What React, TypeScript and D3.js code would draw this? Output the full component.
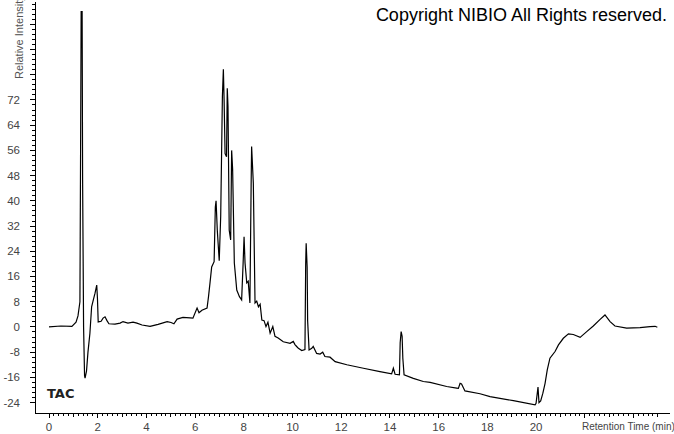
import { useMemo } from "react";
import * as d3 from "d3";

const WIDTH = 674;
const HEIGHT = 434;

// retention time (min) and relative intensity
const rt = [
  0.0, 0.49, 0.94, 1.11, 1.19, 1.27, 1.3, 1.32, 1.36, 1.38, 1.42, 1.46, 1.48, 1.54, 1.6, 1.68, 1.75, 1.82, 1.89, 1.96,
  1.99, 2.02, 2.14, 2.22, 2.3, 2.38, 2.46, 2.71, 2.92, 3.04, 3.24, 3.45, 3.61, 3.82, 4.15, 4.48, 4.85, 5.01, 5.13, 5.26,
  5.5, 5.79, 5.91, 6.08, 6.16, 6.28, 6.49, 6.55, 6.61, 6.68, 6.78, 6.83, 6.86, 6.91, 6.99, 7.05, 7.12, 7.16, 7.19, 7.23,
  7.29, 7.32, 7.35, 7.4, 7.46, 7.5, 7.54, 7.61, 7.71, 7.82, 7.91, 7.97, 8.01, 8.05, 8.12, 8.18, 8.25, 8.3, 8.32, 8.39,
  8.46, 8.53, 8.6, 8.67, 8.74, 8.83, 8.91, 8.99, 9.08, 9.19, 9.28, 9.41, 9.62, 9.9, 10.03, 10.1, 10.17, 10.24, 10.38, 10.51,
  10.54, 10.56, 10.6, 10.62, 10.68, 10.79, 10.85, 10.99, 11.13, 11.24, 11.33, 11.54, 11.75, 12.23, 12.91, 13.59, 14.07, 14.14, 14.21, 14.39,
  14.42, 14.46, 14.5, 14.53, 14.58, 14.96, 15.37, 15.65, 16.33, 16.74, 16.81, 16.88, 16.94, 17.08, 17.7, 18.11, 19.07, 19.96, 20.0, 20.08,
  20.12, 20.19, 20.28, 20.37, 20.46, 20.57, 20.78, 20.92, 21.12, 21.33, 21.53, 21.81, 22.08, 22.35, 22.63, 22.83, 23.04, 23.24, 23.72, 24.27,
  24.68, 24.89, 24.98,
];
const intensity = [
  0, 0.3, 0.2, 1.5, 3.5, 8, 61.5, 100, 100, 46.6, 0, -15.5, -16.2, -14, -8, -2, 6.4, 8.6, 10.7, 13.3,
  9, 1.6, 1.8, 2.8, 3.2, 2, 1.0, 0.9, 1.2, 1.7, 1.2, 1.5, 1.2, 0.6, 0.2, 0.8, 1.7, 1.4, 1.0, 2.5,
  3.0, 2.9, 2.8, 6.0, 4.5, 5.3, 6.0, 9.6, 13.9, 19, 20.7, 38, 40, 30.7, 21, 35, 73, 81.7, 72, 55,
  54, 75.7, 70, 30.7, 27.6, 56, 50, 20.3, 11.7, 9.6, 8.6, 20, 28.6, 20.3, 14, 14.5, 7.6, 45, 57.2, 45.6,
  7.6, 8.2, 6.4, 7.2, 2.2, 2.0, 0.1, 1.5, -2, 0.1, -3, -3.5, -4.7, -5.2, -4.6, -5.6, -6.2, -6.8, -7.5, -7.2,
  20, 26.5, 19, 2, -7.3, -6.8, -6.2, -8.4, -8.6, -8, -9.4, -9.6, -11, -12, -13.1, -14.2, -14.9, -13.1, -15, -15.2,
  -5, -1.5, -3, -10, -15.2, -16.3, -17.3, -17.6, -18.9, -19.4, -19.5, -17.9, -18.1, -20.3, -21.2, -22.1, -23.4, -24.7, -24.2, -19.1,
  -24, -23.5, -21, -17.9, -13.6, -9.9, -7.8, -5.7, -3.6, -2.2, -2.4, -3.3, -1.5, 0.3, 2.4, 3.8, 1.7, 0.3, -0.4, -0.2,
  0.1, 0.2, -0.1,
];

const xTickLabels = [0, 2, 4, 6, 8, 10, 12, 14, 16, 18, 20];
const yTickLabels = [-24, -16, -8, 0, 8, 16, 24, 32, 40, 48, 56, 64, 72];

const AXIS_LEFT = 35;
const AXIS_BOTTOM = 413;

export default function App() {
  const x = useMemo(() => d3.scaleLinear().domain([-0.575, 25.5]).range([AXIS_LEFT, 670]), []);
  const y = useMemo(() => d3.scaleLinear().domain([-27.3, 103.7]).range([AXIS_BOTTOM, 0]), []);

  const points = rt.map((t, i) => [t, intensity[i]] as [number, number]);
  const path = d3.line<[number, number]>().x((d) => x(d[0])).y((d) => y(d[1]))(points) || "";

  // minor ticks: x every 0.2 min, y every 1.6 units
  const xMinor = d3.range(0, 126).map((i) => i * 0.2).filter((t) => x(t) <= 670);
  const yMinor = d3.range(-15, 65).map((i) => i * 1.6).filter((v) => y(v) >= 2 && y(v) <= AXIS_BOTTOM);

  const labelColor = "#444";
  const font = "'Liberation Sans', Arial, sans-serif";

  return (
    <div style={{ position: "absolute", left: 0, top: 0 }}>
      <svg width={WIDTH} height={HEIGHT} style={{ display: "block", background: "#fff" }}>
        {/* axes */}
        <line x1={AXIS_LEFT} x2={AXIS_LEFT} y1={2} y2={AXIS_BOTTOM} stroke="#000" strokeWidth={1} shapeRendering="crispEdges" />
        <line x1={AXIS_LEFT} x2={670} y1={AXIS_BOTTOM} y2={AXIS_BOTTOM} stroke="#000" strokeWidth={1} shapeRendering="crispEdges" />

        {xMinor.map((t, i) => {
          const r = Math.round(t * 10) / 10;
          const len = r % 2 === 0 ? 5 : Number.isInteger(r) ? 4 : 3;
          return (
            <line key={"xm" + i} x1={x(t)} x2={x(t)} y1={AXIS_BOTTOM} y2={AXIS_BOTTOM + len} stroke="#000" shapeRendering="crispEdges" />
          );
        })}
        {yMinor.map((v, i) => {
          const r = Math.round(v * 10) / 10;
          const len = r % 8 === 0 ? 5 : 3;
          return (
            <line key={"ym" + i} x1={AXIS_LEFT - len} x2={AXIS_LEFT} y1={y(v)} y2={y(v)} stroke="#000" shapeRendering="crispEdges" />
          );
        })}

        {xTickLabels.map((t) => (
          <text key={"xl" + t} x={x(t)} y={431} textAnchor="middle" fontSize={11.5} fill={labelColor} fontFamily={font}>
            {t}
          </text>
        ))}
        {yTickLabels.map((v) => (
          <text key={"yl" + v} x={20} y={y(v) + 4} textAnchor="end" fontSize={11.5} fill={labelColor} fontFamily={font}>
            {v}
          </text>
        ))}

        <text x={582} y={430} fontSize={10} fill={labelColor} fontFamily={font}>
          Retention Time (min)
        </text>
        <text transform="translate(23,79) rotate(-90)" fontSize={11} fill="#555" fontFamily={font}>
          Relative Intensity
        </text>

        <text x={667} y={21} textAnchor="end" fontSize={18} fill="#000" fontFamily={font}>
          Copyright NIBIO All Rights reserved.
        </text>

        <text x={47} y={398} fontSize={13} fontWeight="bold" fill="#222" fontFamily="'DejaVu Sans', sans-serif">
          TAC
        </text>

        <path d={path} fill="none" stroke="#000" strokeWidth={1.2} strokeLinejoin="miter" />
      </svg>
    </div>
  );
}
